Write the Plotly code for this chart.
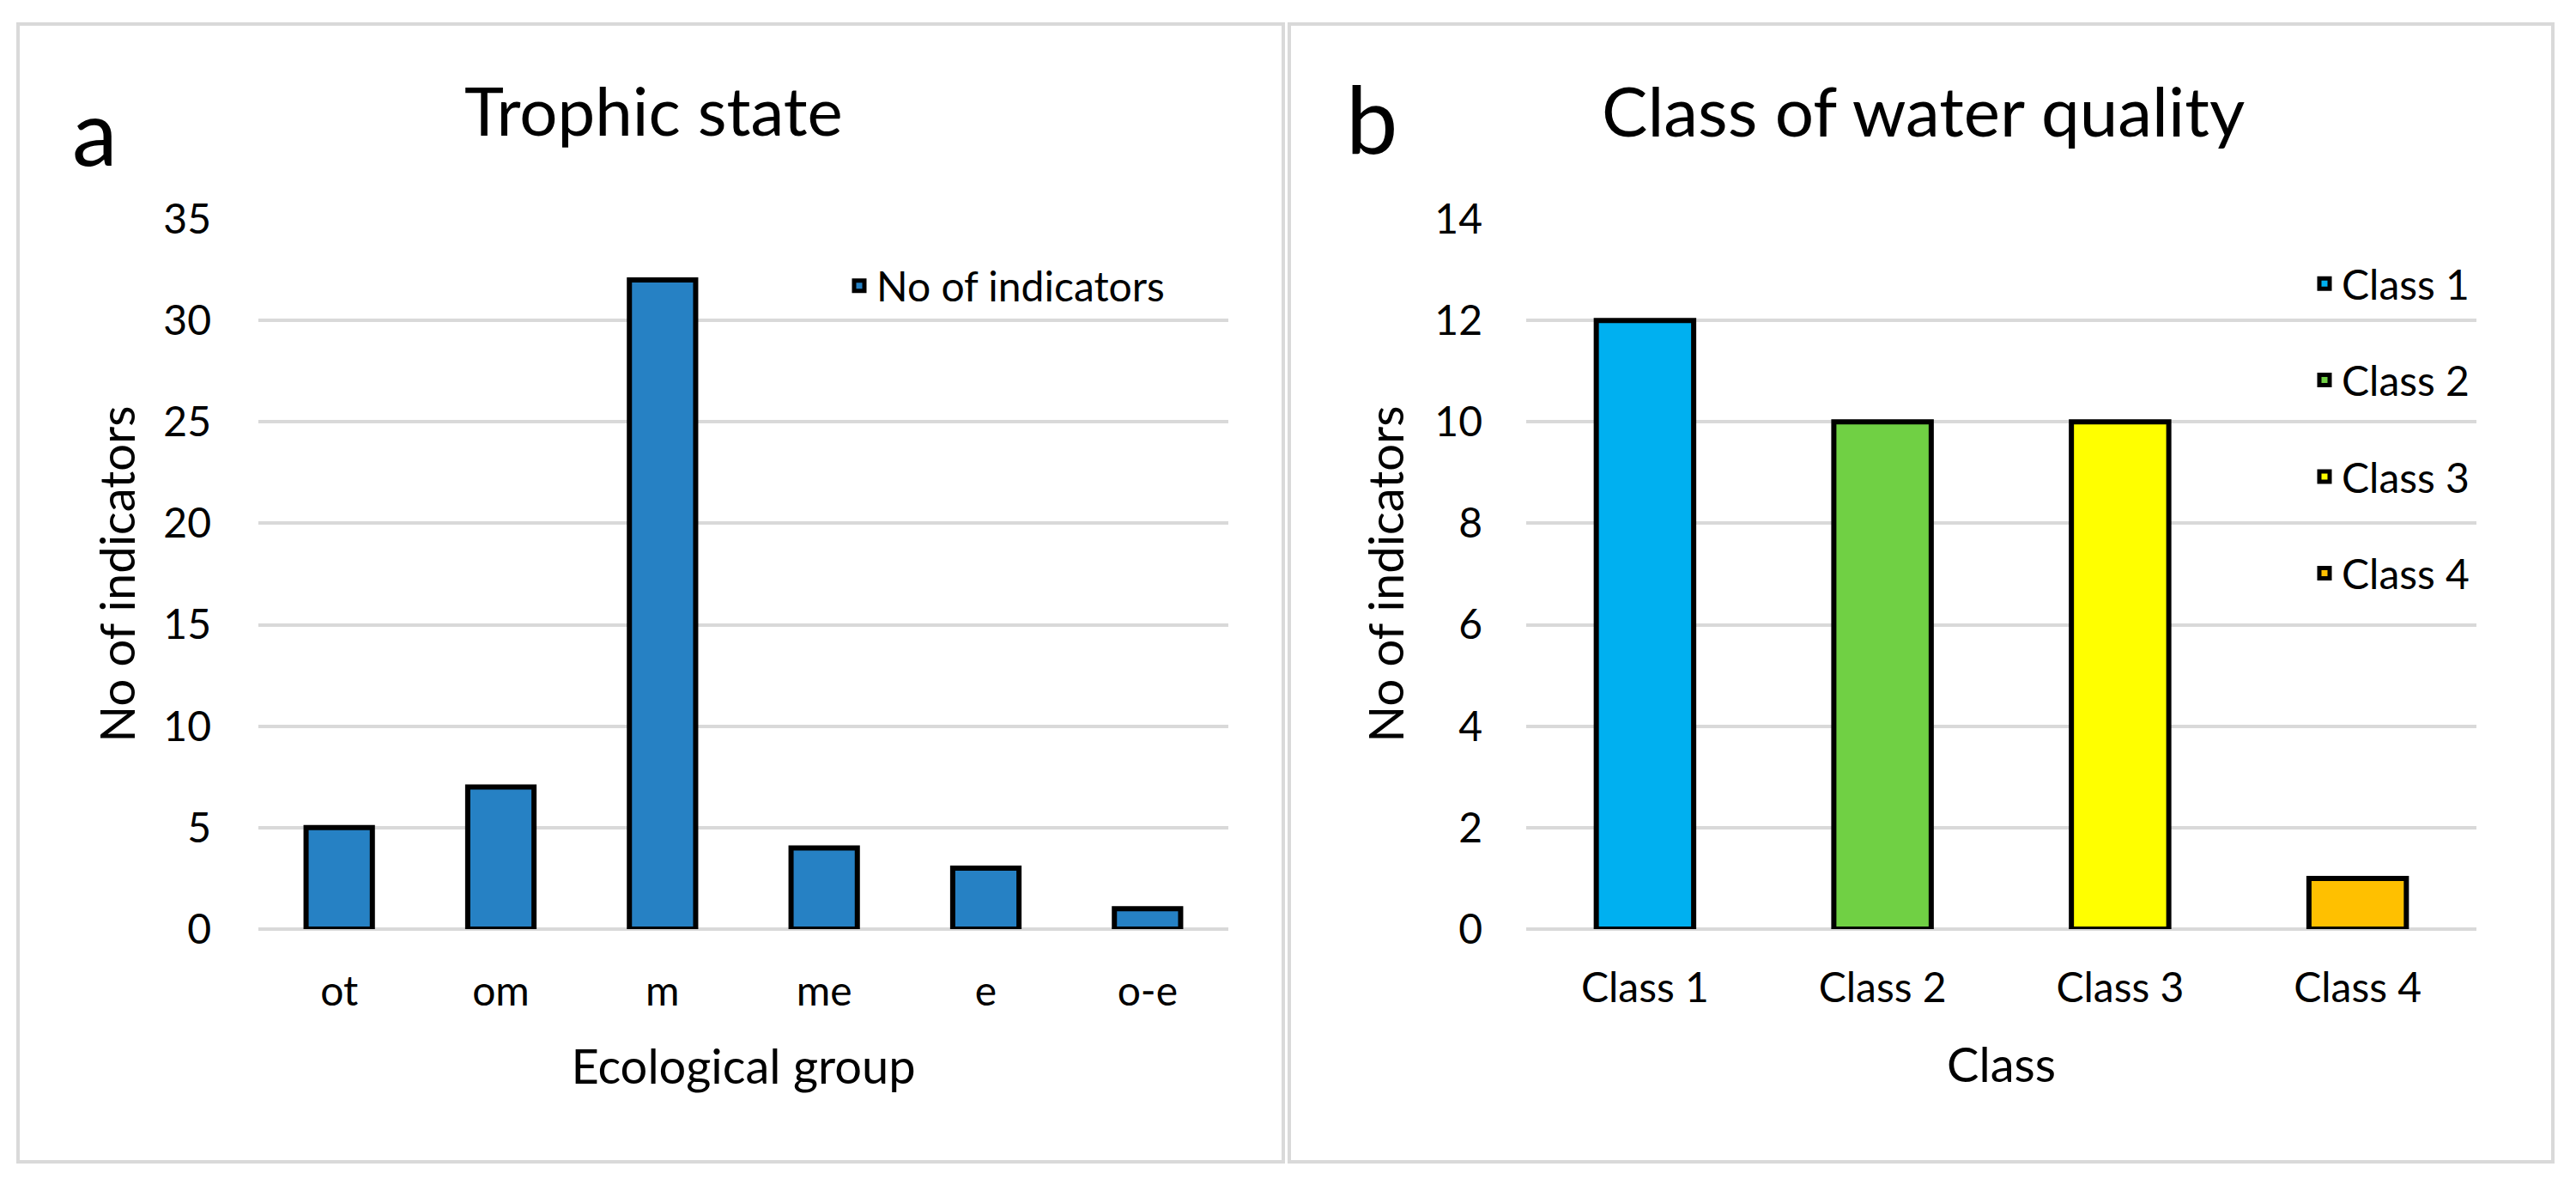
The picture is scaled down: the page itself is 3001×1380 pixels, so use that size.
import plotly.graph_objects as go

# ---- data ----
groups = ["ot", "om", "m", "me", "e", "o-e"]
indicators = [5, 7, 32, 4, 3, 1]

classes = ["Class 1", "Class 2", "Class 3", "Class 4"]
class_counts = [12, 10, 10, 1]
class_colors = ["#00B0F0", "#70D044", "#FFFF00", "#FFC000"]

W, H = 3001, 1380
FONT = "Lato"
GRID = "#D9D9D9"


def px(x):
    return x / W


def py(y):
    return 1 - y / H


fig = go.Figure()

fig.add_trace(go.Bar(
    x=groups, y=indicators, name="No of indicators",
    marker=dict(color="#2681C4", line=dict(color="black", width=6)),
    width=0.41, xaxis="x", yaxis="y", legend="legend",
))

for c, v, col in zip(classes, class_counts, class_colors):
    fig.add_trace(go.Bar(
        x=[c], y=[v], name=c,
        marker=dict(color=col, line=dict(color="black", width=6)),
        width=0.41, xaxis="x2", yaxis="y2", legend="legend2",
        legendgroup=c,
    ))

tickfont = dict(family=FONT, size=48, color="black")
titlefont = dict(family=FONT, size=56, color="black")

ydom = [py(1082), py(255)]

fig.update_layout(
    width=W, height=H,
    margin=dict(l=0, r=0, t=0, b=0, autoexpand=False),
    paper_bgcolor="white", plot_bgcolor="white",
    barmode="overlay",
    font=dict(family=FONT, color="black"),
    xaxis=dict(domain=[px(301), px(1431)], type="category",
               tickfont=tickfont, showgrid=False, ticks="",
               ticklabelstandoff=40, automargin=False,
               title=dict(text="Ecological group", font=titlefont, standoff=42)),
    yaxis=dict(domain=ydom, range=[0, 35], dtick=5, tickfont=tickfont,
               showgrid=True, gridcolor=GRID, gridwidth=4,
               zeroline=True, zerolinecolor=GRID, zerolinewidth=4,
               ticklabelstandoff=54, ticks="", automargin=False,
               title=dict(text="No of indicators", font=titlefont, standoff=14)),
    xaxis2=dict(domain=[px(1778), px(2885)], type="category", anchor="y2",
                tickfont=tickfont, showgrid=False, ticks="",
                ticklabelstandoff=36, automargin=False,
                title=dict(text="Class", font=titlefont, standoff=44)),
    yaxis2=dict(domain=ydom, range=[0, 14], dtick=2, anchor="x2",
                tickfont=tickfont,
                showgrid=True, gridcolor=GRID, gridwidth=4,
                zeroline=True, zerolinecolor=GRID, zerolinewidth=4,
                ticklabelstandoff=50, ticks="", automargin=False,
                title=dict(text="No of indicators", font=titlefont, standoff=17)),
    legend=dict(x=px(981), y=py(333), xanchor="left", yanchor="middle",
                bgcolor="rgba(0,0,0,0)", font=dict(family=FONT, size=48, color="black")),
    legend2=dict(x=px(2688), y=py(499), xanchor="left", yanchor="middle",
                 bgcolor="rgba(0,0,0,0)", tracegroupgap=47,
                 font=dict(family=FONT, size=48, color="black")),
    showlegend=True,
)

# panel frames
for x0, x1 in [(21, 1495), (1502, 2974)]:
    fig.add_shape(type="rect", xref="paper", yref="paper",
                  x0=px(x0), x1=px(x1), y0=py(1353), y1=py(28),
                  line=dict(color=GRID, width=4), fillcolor="rgba(0,0,0,0)",
                  layer="below")

# titles and panel letters
ann = [
    ("Trophic state", 761, 128, 78),
    ("Class of water quality", 2240, 128, 80),
    ("a", 110, 152, 106),
    ("b", 1598, 137, 108),
]
for t, x, y, s in ann:
    fig.add_annotation(text=t, x=px(x), y=py(y), xref="paper", yref="paper",
                       xanchor="center", yanchor="middle", showarrow=False,
                       font=dict(family=FONT, size=s, color="black"))

fig.write_html("out.html",
               config={"displayModeBar": False},
               post_script="document.body.style.margin='0';"
                           "document.body.style.padding='0';")
